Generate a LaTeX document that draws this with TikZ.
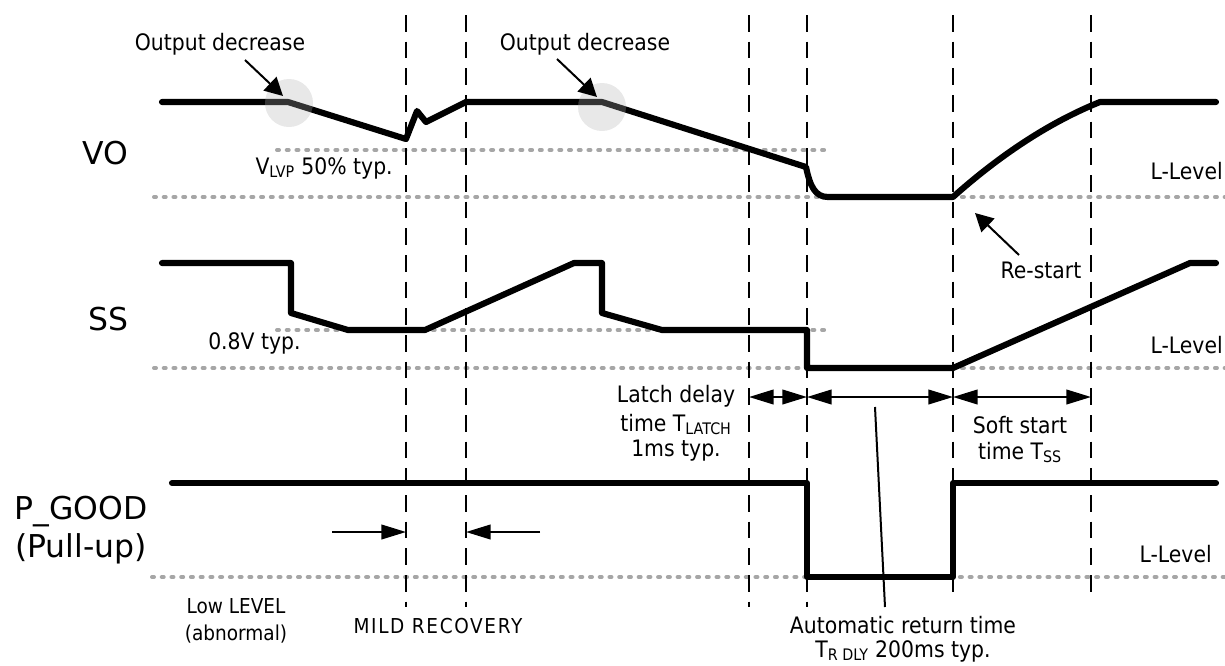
\documentclass[tikz,border=0pt]{standalone}
\usepackage{fontspec}
\setmainfont{DejaVu Sans}[FakeStretch=0.9]
\newfontfamily\widefont{DejaVu Sans}
\usetikzlibrary{arrows.meta}
\definecolor{refgray}{HTML}{A6A6A6}
\tikzset{
  sig/.style={line width=4.6pt, line cap=round, line join=round},
  refline/.style={draw=refgray, line width=3pt, line cap=round, dash pattern=on 1.5pt off 5.8pt},
  vmarker/.style={line width=1.6pt, dash pattern=on 12.5pt off 7.5pt},
  lbl/.style={font=\fontsize{17}{20}\selectfont, inner sep=0pt},
  biglbl/.style={font=\widefont\fontsize{23.6}{28}\selectfont, inner sep=0pt},
  smalllbl/.style={font=\fontsize{15.4}{18}\selectfont, inner sep=0pt},
  ptr/.style={line width=1.5pt, -{Triangle[length=13.5pt,width=14pt]}},
  flatptr/.style={line width=1.5pt, -{Triangle[length=18.5pt,width=11pt]}},
  dimarrow/.style={line width=1.5pt, {Triangle[length=18.5pt,width=11pt]}-{Triangle[length=18.5pt,width=11pt]}},
  thinline/.style={line width=1.5pt},
  halo/.style={fill=white!69!black, fill opacity=0.29}
}
\begin{document}
\begin{tikzpicture}[x=0.75pt,y=-0.75pt]
\useasboundingbox (0,0) rectangle (1225,665);
% reference levels
\draw[refline] (277,150) -- (830,150);
\draw[refline] (154,197) -- (1225,197);
\draw[refline] (277,330) -- (830,330);
\draw[refline] (154,368) -- (1225,368);
\draw[refline] (152,577) -- (1225,577);
% vertical time markers
\foreach \x/\b in {406/607,466/607,749/607,807/607,953/598,1091/598}
  \draw[vmarker] (\x,15) -- (\x,\b);
% VO
\draw[sig] (162,102) -- (288,102) -- (406,139) -- (417,111) -- (426,122) -- (466,102) -- (602,102) -- (806,167)
  .. controls (810,186) and (815,197) .. (828,197) -- (953,197)
  .. controls (1000,155) and (1050,122) .. (1100,102) -- (1216,102);
% SS
\draw[sig] (162,263) -- (291,263) -- (291,313) -- (348,330) -- (425,330) -- (574,263) -- (602,263) -- (602,313) -- (662,330) -- (807,330) -- (807,368) -- (953,368) -- (1190,263) -- (1216,263);
% P_GOOD
\draw[sig] (172,483) -- (807,483) -- (807,577) -- (953,577) -- (953,483) -- (1216,483);
% halos
\fill[halo] (289,103) circle[radius=18pt];
\fill[halo] (602,107) circle[radius=18pt];
% signal names
\node[biglbl, anchor=base] (nvo) at (105,164) {VO};
\node[biglbl, anchor=base] (nss) at (108,330) {SS};
\node[biglbl, anchor=base] (npg) at (81,519) {P\_GOOD};
\node[biglbl, anchor=base] (npu) at (81,557) {(Pull-up)};
% output decrease
\node[lbl, anchor=base] (od1) at (220,50) {Output decrease};
\node[lbl, anchor=base] (od2) at (585,50) {Output decrease};
\coordinate (od1s) at (245,60); \coordinate (od1e) at (283,96);
\coordinate (od2s) at (557,59); \coordinate (od2e) at (597,97);
\draw[ptr] (od1s) -- (od1e);
\draw[ptr] (od2s) -- (od2e);
% level labels
\node[lbl, anchor=base east] (vlvp) at (393,174) {V\textsubscript{LVP} 50\% typ.};
\node[lbl, anchor=base east] (ll1) at (1223,179) {L-Level};
\node[lbl, anchor=base east] (ll2) at (1223,353) {L-Level};
\node[lbl, anchor=base east] (ll3) at (1212,562) {L-Level};
\node[lbl, anchor=base west] (v08) at (208,349) {0.8V typ.};
% re-start
\node[lbl, anchor=base] (rs) at (1041,278) {Re-start};
\coordinate (rss) at (1019,255); \coordinate (rse) at (975,213);
\draw[ptr] (rss) -- (rse);
% time spans
\coordinate (t1) at (749,397); \coordinate (t2) at (807,397);
\coordinate (t3) at (953,397); \coordinate (t4) at (1091,397);
\draw[dimarrow] (t1) -- (t2);
\draw[dimarrow] (t2) -- (t3);
\draw[dimarrow] (t3) -- (t4);
\node[lbl, anchor=base] (lat1) at (676,402) {Latch delay};
\node[lbl, anchor=base] (lat2) at (676,431) {time T\textsubscript{LATCH}};
\node[lbl, anchor=base] (lat3) at (676,456) {1ms typ.};
\node[lbl, anchor=base] (ss1) at (1020,433) {Soft start};
\node[lbl, anchor=base] (ss2) at (1020,459) {time T\textsubscript{SS}};
\node[lbl, anchor=base] (ar1) at (903,633) {Automatic return time};
\node[lbl, anchor=base] (ar2) at (903,657) {T\textsubscript{R DLY} 200ms typ.};
\coordinate (arp1) at (875,407); \coordinate (arp2) at (885,607);
\draw[thinline] (arp1) -- (arp2);
% mild recovery
\coordinate (mr1s) at (332,532); \coordinate (mr1e) at (406,532);
\coordinate (mr2s) at (540,532); \coordinate (mr2e) at (466,532);
\draw[flatptr] (mr1s) -- (mr1e);
\draw[flatptr] (mr2s) -- (mr2e);
\node[smalllbl, anchor=base] (low1) at (236,613) {Low LEVEL};
\node[smalllbl, anchor=base] (low2) at (236,640) {(abnormal)};
\node[smalllbl, anchor=base] (mild) at (438,633) {\addfontfeature{LetterSpace=8}MILD RECOVERY};
\end{tikzpicture}
\end{document}
